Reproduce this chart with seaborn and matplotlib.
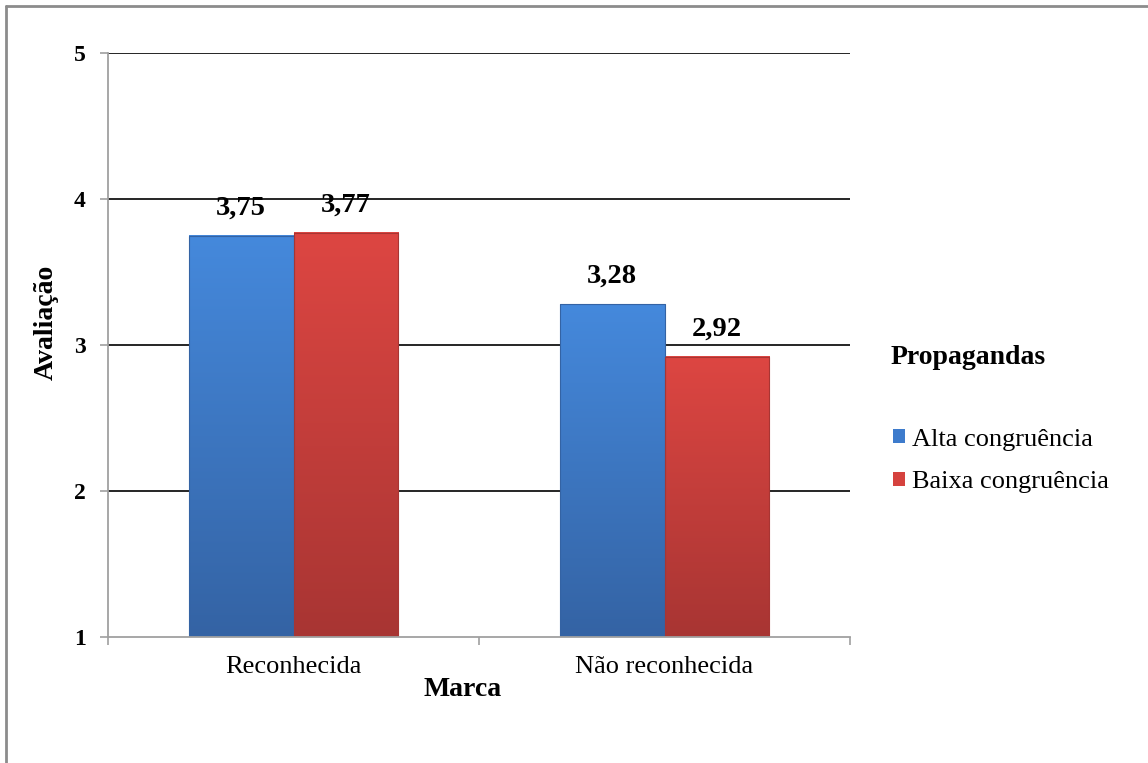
import numpy as np
import pandas as pd
import matplotlib
matplotlib.use("Agg")
import matplotlib.pyplot as plt
import seaborn as sns
from matplotlib.lines import Line2D
from matplotlib.colors import LinearSegmentedColormap
from matplotlib.patches import Patch

# ---- data ----
categories = ["Reconhecida", "Não reconhecida"]
series = ["Alta congruência", "Baixa congruência"]
alta = [3.75, 3.28]
baixa = [3.77, 2.92]
value_labels_alta = ["3,75", "3,28"]
value_labels_baixa = ["3,77", "2,92"]
yticks = [1, 2, 3, 4, 5]

colors = {"Alta congruência": "#3d7bcc", "Baixa congruência": "#d5423e"}
grad = {"Alta congruência": ("#4589dc", "#3463a4"),
        "Baixa congruência": ("#dd4642", "#a83533")}

df = pd.DataFrame({
    "Marca": categories * 2,
    "Propagandas": [series[0]] * 2 + [series[1]] * 2,
    "Avaliação": alta + baixa,
})

sns.set_theme(style="white")
plt.rcParams["font.family"] = ["Liberation Serif", "DejaVu Serif"]
plt.rcParams["text.color"] = "black"
plt.rcParams["axes.labelcolor"] = "black"
plt.rcParams["xtick.labelcolor"] = "black"
plt.rcParams["ytick.labelcolor"] = "black"

fig = plt.figure(figsize=(11.48, 7.63), dpi=100)
ax = fig.add_axes([108 / 1148, 1 - 637 / 763, 742 / 1148, 584 / 763])

sns.barplot(data=df, x="Marca", y="Avaliação", hue="Propagandas",
            order=categories, hue_order=series, palette=colors,
            width=0.566, ax=ax, legend=False, edgecolor="none", saturation=1)

ax.set_ylim(1, 5)
ax.set_xlim(-0.5, 1.5)
ymin = ax.get_ylim()[0]

# gradient fill for bars
labels_all = value_labels_alta + value_labels_baixa
bars = list(ax.patches)
for i, bar in enumerate(bars):
    s = series[0] if i < 2 else series[1]
    top_c, bot_c = grad[s]
    cmap = LinearSegmentedColormap.from_list("g", [bot_c, top_c])
    x0, y0 = bar.get_x(), bar.get_y()
    w, h = bar.get_width(), bar.get_height()
    ytop = y0 + h
    g = np.linspace(0, 1, 256).reshape(-1, 1)
    im = ax.imshow(g, cmap=cmap, aspect="auto", origin="lower",
                   extent=[x0, x0 + w, max(y0, ymin), ytop],
                   zorder=bar.get_zorder() + 0.1)
    ax.plot([x0, x0, x0 + w, x0 + w], [ymin, ytop, ytop, ymin],
            color=bot_c, lw=0.8, zorder=bar.get_zorder() + 0.2)
    ax.annotate(labels_all[i], (x0 + w / 2, ytop), xytext=(0, 11),
                textcoords="offset points", ha="center", va="bottom",
                fontsize=20.5, fontweight="bold", color="black")

ax.set_xlim(-0.5, 1.5)
ax.set_ylim(1, 5)

# grid
ax.set_yticks(yticks)
ax.set_yticklabels([str(v) for v in yticks])
for v in yticks[1:]:
    ax.axhline(v, color="black", lw=1.2, zorder=0.5)

for side in ["top", "right"]:
    ax.spines[side].set_visible(False)
for side in ["left", "bottom"]:
    ax.spines[side].set_color("#a0a0a0")
    ax.spines[side].set_linewidth(1.3)
    ax.spines[side].set_zorder(5)

ax.tick_params(axis="y", direction="out", length=6, width=1.2, color="#a0a0a0",
               left=True, pad=10, labelsize=17, labelcolor="black")
for t in ax.get_yticklabels():
    t.set_fontweight("bold")
ax.tick_params(axis="x", which="major", length=0, pad=14, labelsize=19,
               labelcolor="black")
ax.set_xticks([-0.5, 0.5, 1.5], minor=True)
ax.tick_params(axis="x", which="minor", direction="out", length=6, width=1.2,
               color="#a0a0a0", bottom=True)

ax.set_xlabel("Marca", fontsize=20, fontweight="bold", color="black")
ax.xaxis.set_label_coords((463 - 108) / 742, -0.068)
ax.set_ylabel("Avaliação", fontsize=20, fontweight="bold", color="black")
ax.yaxis.label.set_va("center")
ax.yaxis.set_label_coords((46 - 108) / 742, (637 - 322) / 584)

# legend
fig.text(891 / 1148, 1 - 358 / 763, "Propagandas", fontsize=20,
         fontweight="bold", ha="left", va="center", color="black")
handles = [Patch(facecolor=colors[s], edgecolor="none") for s in series]
leg = fig.legend(handles, series, loc="center left",
                 bbox_to_anchor=(880 / 1148, 1 - 461 / 763),
                 frameon=False, fontsize=19, handlelength=0.45,
                 handleheight=0.45, handletextpad=0.25, labelspacing=0.78,
                 borderpad=0, labelcolor="black")

# figure border (left and top visible)
fig.add_artist(Line2D([6 / 1148, 6 / 1148], [0, 1 - 6 / 763],
                      transform=fig.transFigure, color="#8c8c8c", lw=2))
fig.add_artist(Line2D([6 / 1148, 1], [1 - 6 / 763, 1 - 6 / 763],
                      transform=fig.transFigure, color="#8c8c8c", lw=2))

fig.savefig("out.png", dpi=100)
